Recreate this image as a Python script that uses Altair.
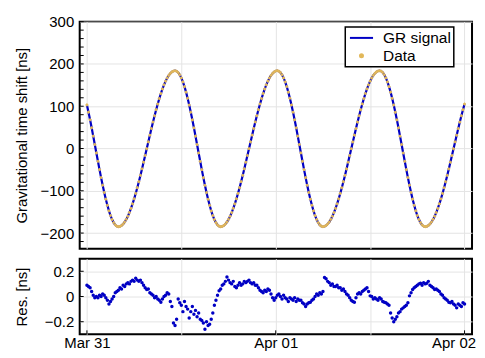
import altair as alt
import pandas as pd

# ---- data (12-minute samples from Mar 31 00:00) ----
step_hours = 0.2
gr_signal = [
    103.0, 85.9, 67.8, 48.9, 29.3, 9.5, -10.5, -30.3, -49.9, -68.8, -86.9, -104.0, -119.9, -134.4,
    -147.4, -158.6, -168.0, -175.3, -180.7, -183.9, -185.0,
    -184.3, -182.2, -178.7, -173.9, -167.7, -160.3, -151.6, -141.8, -131.0, -119.1, -106.3, -92.8,
    -78.5, -63.6, -48.2, -32.5, -16.6, -0.5, 15.6, 31.5, 47.2, 62.6, 77.5, 91.8, 105.3, 118.1, 130.0,
    140.8, 150.6, 159.3, 166.7, 172.9, 177.7, 181.2, 183.3, 184.0,
    182.9, 179.7, 174.3, 167.0, 157.6, 146.4, 133.4, 118.9, 103.0, 85.9, 67.8, 48.9, 29.3, 9.5,
    -10.5, -30.3, -49.9, -68.8, -86.9, -104.0, -119.9, -134.4, -147.4, -158.6, -168.0, -175.3,
    -180.7, -183.9, -185.0,
    -184.3, -182.2, -178.7, -173.9, -167.7, -160.3, -151.6, -141.8, -131.0, -119.1, -106.3, -92.8,
    -78.5, -63.6, -48.2, -32.5, -16.6, -0.5, 15.6, 31.5, 47.2, 62.6, 77.5, 91.8, 105.3, 118.1, 130.0,
    140.8, 150.6, 159.3, 166.7, 172.9, 177.7, 181.2, 183.3, 184.0,
    182.9, 179.7, 174.3, 167.0, 157.6, 146.4, 133.4, 118.9, 103.0, 85.9, 67.8, 48.9, 29.3, 9.5,
    -10.5, -30.3, -49.9, -68.8, -86.9, -104.0, -119.9, -134.4, -147.4, -158.6, -168.0, -175.3,
    -180.7, -183.9, -185.0,
    -184.3, -182.2, -178.7, -173.9, -167.7, -160.3, -151.6, -141.8, -131.0, -119.1, -106.3, -92.8,
    -78.5, -63.6, -48.2, -32.5, -16.6, -0.5, 15.6, 31.5, 47.2, 62.6, 77.5, 91.8, 105.3, 118.1, 130.0,
    140.8, 150.6, 159.3, 166.7, 172.9, 177.7, 181.2, 183.3, 184.0,
    182.9, 179.7, 174.3, 167.0, 157.6, 146.4, 133.4, 118.9, 103.0, 85.9, 67.8, 48.9, 29.3, 9.5,
    -10.5, -30.3, -49.9, -68.8, -86.9, -104.0, -119.9, -134.4, -147.4, -158.6, -168.0, -175.3,
    -180.7, -183.9, -185.0,
    -184.3, -182.2, -178.7, -173.9, -167.7, -160.3, -151.6, -141.8, -131.0, -119.1, -106.3, -92.8,
    -78.5, -63.6, -48.2, -32.5, -16.6, -0.5, 15.6, 31.5, 47.2, 62.6, 77.5, 91.8, 105.3,
]

residuals = [
    0.09, 0.08, 0.07, 0.04, 0.01, -0.01, 0.00, -0.01, 0.01, 0.00,
    0.02, 0.01, -0.01, -0.03, -0.06, -0.04, -0.02, 0.00, 0.03, 0.04,
    0.05, 0.07, 0.06, 0.09, 0.08, 0.10, 0.11, 0.10, 0.12, 0.13,
    0.12, 0.145, 0.13, 0.12, 0.13, 0.11, 0.09, 0.07, 0.055, 0.06,
    0.03, 0.02, 0.01, -0.01, 0.00, -0.02, -0.03, -0.045, -0.02, 0.00,
    0.01, 0.03, 0.02, -0.04, -0.08, -0.21, -0.23, -0.18, -0.02, -0.05,
    -0.07, -0.12, -0.04, -0.08, -0.10, -0.17, -0.12, -0.08, -0.14, -0.11,
    -0.16, -0.13, -0.18, -0.19, -0.21, -0.26, -0.20, -0.23, -0.22, -0.18,
    -0.13, -0.07, -0.03, 0.01, 0.045, 0.06, 0.09, 0.10, 0.12, 0.155,
    0.13, 0.11, 0.10, 0.12, 0.08, 0.07, 0.09, 0.11, 0.09, 0.10,
    0.12, 0.11, 0.12, 0.13, 0.11, 0.10, 0.11, 0.09, 0.09, 0.07,
    0.05, 0.04, 0.03, 0.05, 0.04, 0.06, 0.05, 0.02, -0.01, -0.03,
    -0.01, 0.01, 0.02, 0.00, -0.02, 0.01, -0.01, -0.02, -0.04, -0.01,
    -0.02, -0.03, -0.01, -0.04, -0.02, -0.03, -0.03, -0.05, -0.06, -0.08,
    -0.06, -0.05, -0.045, -0.03, -0.02, 0.00, 0.02, 0.01, 0.03, 0.02,
    0.04, 0.15, 0.14, 0.12, 0.11, 0.09, 0.10, 0.08, 0.08, 0.09,
    0.07, 0.07, 0.05, 0.06, 0.04, 0.02, 0.01, -0.01, -0.03, -0.04,
    -0.045, -0.01, 0.02, 0.03, 0.02, 0.04, 0.05, 0.06, 0.07, 0.04,
    0.005, 0.00, -0.02, -0.01, -0.02, -0.03, -0.01, -0.02, -0.04, -0.045,
    -0.05, -0.06, -0.07, -0.13, -0.17, -0.20, -0.18, -0.16, -0.13, -0.12,
    -0.10, -0.09, -0.08, -0.07, -0.05, 0.005, 0.03, 0.055, 0.07, 0.08,
    0.09, 0.10, 0.105, 0.09, 0.11, 0.10, 0.105, 0.12, 0.09, 0.08,
    0.07, 0.055, 0.06, 0.05, 0.04, 0.02, 0.01, -0.01, -0.02, -0.03,
    -0.045, -0.05, -0.04, -0.06, -0.07, -0.09, -0.06, -0.07, -0.08, -0.05,
    -0.06,
]

series_names = ["GR signal", "Data"]
y_major = [-200, -100, 0, 100, 200, 300]
y_minor = [-220, -200, -180, -160, -140, -120, -100, -80, -60, -40, -20, 0,
           20, 40, 60, 80, 100, 120, 140, 160, 180, 200, 220, 240, 260, 280, 300]
res_major = [-0.2, 0, 0.2]
x_grid_hours = [0, 12, 24, 36, 48]
x_label_hours = [0, 24, 48]
x_labels = ["Mar 31", "Apr 01", "Apr 02"]

BLUE = "#0000c4"
GOLD = "#e2b85a"
GRID = "#e4e4e4"
FONT = "Liberation Sans"
W = 394
H_TOP = 228
H_RES = 76

hours = [round(step_hours * i, 1) for i in range(len(gr_signal))]
df = pd.DataFrame({"t": hours, "gr": gr_signal, "res": residuals})
df["data"] = df["gr"] + df["res"]
df["series"] = "Data"

label_expr = " : ".join(
    f"datum.value == {h} ? '{lab}'" for h, lab in zip(x_label_hours, x_labels)
) + " : ''"

xscale = alt.Scale(domain=[-0.92, 48.95], nice=False, zero=False)
ytop_scale = alt.Scale(domain=[-237, 300], nice=False, zero=False)
yres_scale = alt.Scale(domain=[-0.3, 0.3], nice=False, zero=False)


def x_top_axis():
    return alt.Axis(values=x_grid_hours, labels=False, ticks=False, domain=False,
                    grid=True, title=None)


def y_top_axis():
    return alt.Axis(values=y_major, title="Gravitational time shift [ns]",
                    labelPadding=6, titlePadding=11, grid=True, ticks=False, domain=False)


def x_bot_axis():
    return alt.Axis(values=x_grid_hours, labelExpr=label_expr, ticks=False, domain=False,
                    grid=True, title=None, labelPadding=1, labelFlush=False,
                    labelOffset={"condition": {"test": f"datum.value == {x_label_hours[-1]}",
                                               "value": -11}, "value": 0})


def y_bot_axis():
    return alt.Axis(values=res_major, format=".1~f", title="Res. [ns]", labelPadding=6,
                    titlePadding=15, grid=True, ticks=False, domain=False)


# ---------------- top panel ----------------
line = alt.Chart(df).mark_line(color=BLUE, strokeWidth=2.2).encode(
    x=alt.X("t:Q", scale=xscale, axis=x_top_axis()),
    y=alt.Y("gr:Q", scale=ytop_scale, axis=y_top_axis()),
)

circle_path = "M0,-0.19A0.19,0.19,0,1,1,0,0.19A0.19,0.19,0,1,1,0,-0.19Z"
line_path = "M-1.45,0H1.45"
NBSP2 = "\u00a0\u00a0"
leg = alt.Legend(title=None, orient="none", legendX=266.7, legendY=5.3, fillColor="white",
                 strokeColor="black", padding=2, rowPadding=0, labelFontSize=15.5,
                 symbolOffset=5.3, labelOffset=12.7, symbolSize=256, symbolStrokeWidth=2,
                 labelExpr=f"datum.label + '{NBSP2}'")
color_scale = alt.Scale(domain=series_names, range=[BLUE, GOLD])
points = alt.Chart(df).mark_point(filled=True, size=134, strokeWidth=1, opacity=1).encode(
    x=alt.X("t:Q", scale=xscale, axis=x_top_axis()),
    y=alt.Y("data:Q", scale=ytop_scale, axis=y_top_axis()),
    fill=alt.Fill("series:N", scale=color_scale, legend=leg),
    stroke=alt.Stroke("series:N", scale=color_scale, legend=leg),
    shape=alt.Shape("series:N", scale=alt.Scale(domain=series_names,
                                                range=[line_path, circle_path]), legend=leg),
)

ytick_df = pd.DataFrame({"v": y_minor})
yticks = alt.Chart(ytick_df).mark_rule(color="black", strokeWidth=1).encode(
    y=alt.Y("v:Q", scale=ytop_scale, axis=y_top_axis()),
    x=alt.value(0), x2=alt.value(4),
)

top = alt.layer(line, points, yticks).properties(width=W, height=H_TOP)

# ---------------- residual panel ----------------
res_pts = alt.Chart(df).mark_circle(size=12, color=BLUE, opacity=1).encode(
    x=alt.X("t:Q", scale=xscale, axis=x_bot_axis()),
    y=alt.Y("res:Q", scale=yres_scale, axis=y_bot_axis()),
)

xtick_df = pd.DataFrame({"v": x_label_hours})
xticks = alt.Chart(xtick_df).mark_rule(color="black", strokeWidth=1).encode(
    x=alt.X("v:Q", scale=xscale, axis=x_bot_axis()),
    y=alt.value(H_RES - 4), y2=alt.value(H_RES),
)
rtick_df = pd.DataFrame({"v": res_major})
rticks = alt.Chart(rtick_df).mark_rule(color="black", strokeWidth=1).encode(
    y=alt.Y("v:Q", scale=yres_scale, axis=y_bot_axis()),
    x=alt.value(0), x2=alt.value(4),
)

bottom = alt.layer(res_pts, xticks, rticks).properties(width=W, height=H_RES)

chart = (
    alt.vconcat(top, bottom, spacing=8)
    .properties(padding={"left": 5, "top": 5, "right": 0, "bottom": 0})
    .configure(font=FONT)
    .configure_view(stroke="black", strokeWidth=2)
    .configure_axis(labelFont=FONT, labelFontSize=15, labelColor="black",
                    titleFont=FONT, titleFontSize=15, titleFontWeight="normal",
                    titleColor="black", gridColor=GRID, gridWidth=1)
    .configure_legend(labelFont=FONT, labelColor="black", strokeWidth=1.5)
)

chart.save("out.html", embed_options={"renderer": "svg", "actions": False})
